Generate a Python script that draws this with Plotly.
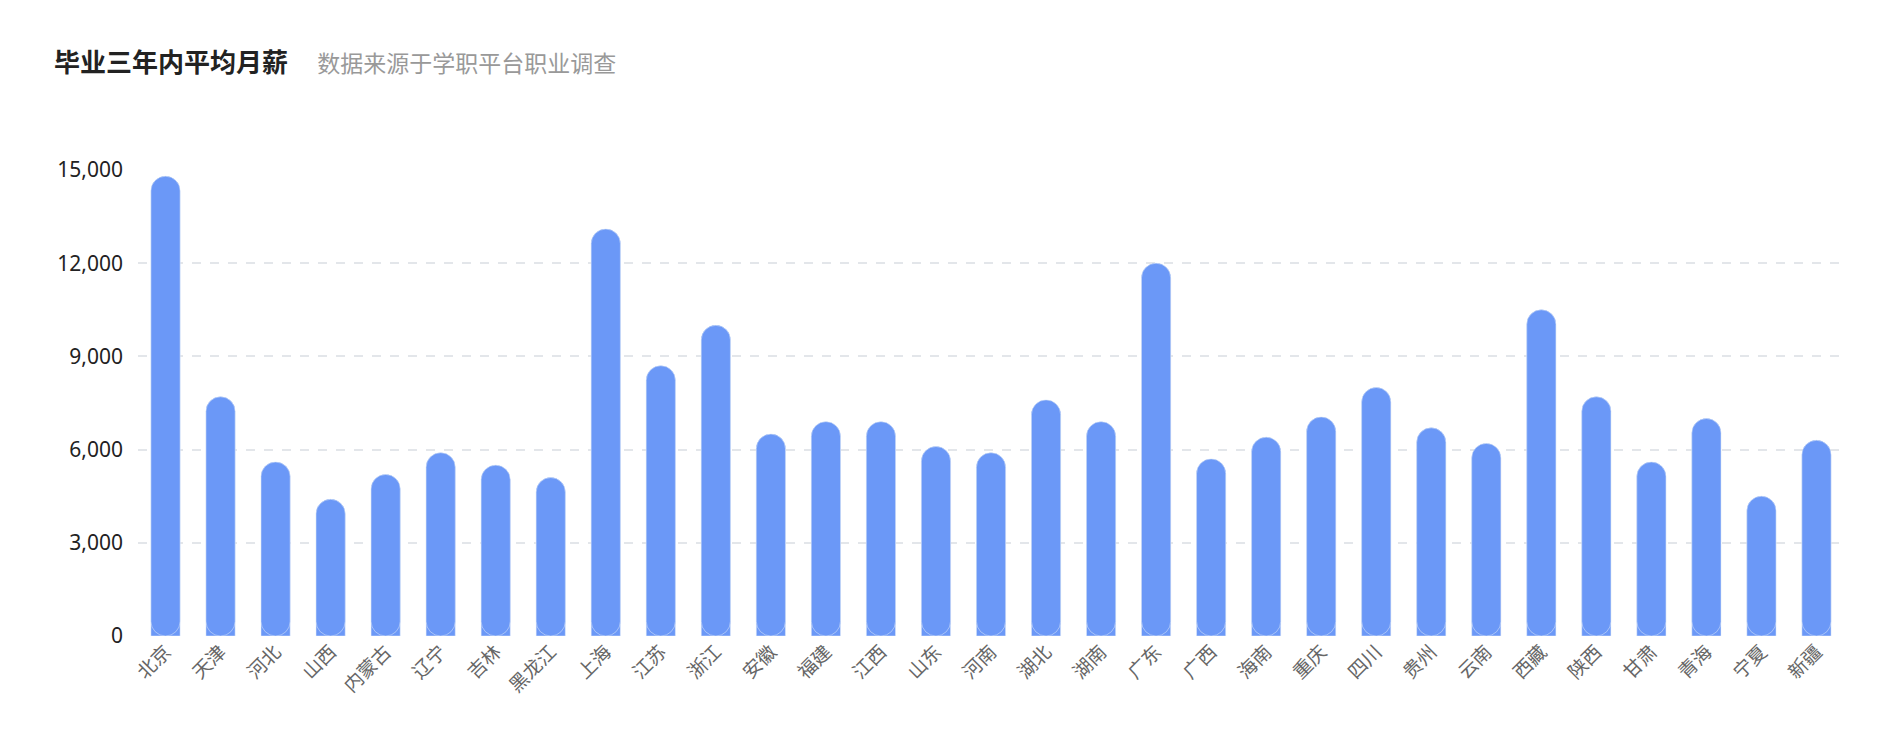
import plotly.graph_objects as go

provinces = ["北京", "天津", "河北", "山西", "内蒙古", "辽宁", "吉林", "黑龙江", "上海", "江苏",
             "浙江", "安徽", "福建", "江西", "山东", "河南", "湖北", "湖南", "广东", "广西",
             "海南", "重庆", "四川", "贵州", "云南", "西藏", "陕西", "甘肃", "青海", "宁夏", "新疆"]
salary = [14800, 7700, 5600, 4400, 5200, 5900, 5500, 5100, 13100, 8700,
          10000, 6500, 6900, 6900, 6100, 5900, 7600, 6900, 12000, 5700,
          6400, 7050, 8000, 6700, 6200, 10500, 7700, 5600, 7000, 4500, 6300]
y_ticks = [0, 3000, 6000, 9000, 12000, 15000]

color = "#6b98f7"
fig = go.Figure()
# top-rounded bar
fig.add_trace(go.Bar(x=provinces, y=salary, marker=dict(color=color, cornerradius="50%"),
                     width=0.53, hoverinfo="x+y"))
# mirrored bar so the bottom end is rounded too
fig.add_trace(go.Bar(x=provinces, y=[-v for v in salary], base=salary,
                     marker=dict(color=color, cornerradius="50%"), width=0.53, hoverinfo="skip"))

fig.update_layout(
    width=1890, height=752, autosize=False,
    barmode="overlay", showlegend=False,
    plot_bgcolor="white", paper_bgcolor="white",
    font=dict(family="Noto Sans CJK SC, sans-serif"),
    margin=dict(l=130, r=54, t=162, b=124),
    title=dict(
        text="<b>毕业三年内平均月薪</b>     <span style='font-size:23px;color:#999999'>数据来源于学职平台职业调查</span>",
        x=46 / 1890, xanchor="left", y=1 - 55 / 752, yanchor="middle",
        font=dict(size=26, color="#222222"),
    ),
)
fig.update_xaxes(tickangle=-45, tickfont=dict(size=19, color="#666666"), showline=False,
                 ticks="", range=[-0.5, len(provinces) - 0.5])
fig.update_yaxes(range=[0, 15000], tickvals=y_ticks, tickformat=",", showgrid=True,
                 gridcolor="#e3e6ea", griddash="dash", gridwidth=1.5, zeroline=False,
                 tickfont=dict(size=21, color="#222222", family="Noto Sans, sans-serif"),
                 ticks="", ticklen=0)
fig.layout.yaxis.ticklabelstandoff = 14

fig.write_html("out.html")
